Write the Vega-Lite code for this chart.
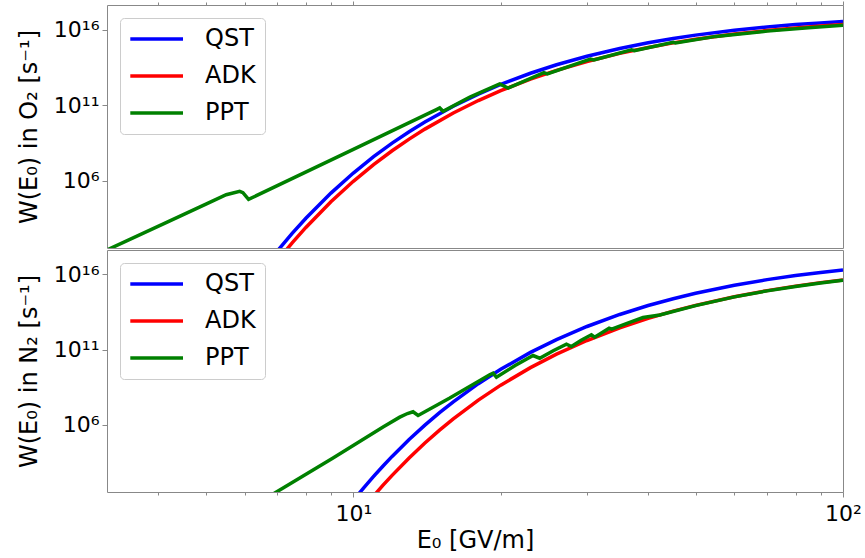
{
  "$schema": "https://vega.github.io/schema/vega-lite/v6.json",
  "background": "white",
  "padding": {"left": 16, "top": 0, "right": 5, "bottom": 5},
  "spacing": 0,
  "config": {
    "font": "DejaVu Sans",
    "view": {"stroke": "#888888", "strokeWidth": 1},
    "axis": {"domain": false, "grid": false, "tickColor": "#888888", "tickWidth": 1, "labelColor": "#000000", "titleColor": "#000000", "labelFont": "DejaVu Sans", "titleFont": "DejaVu Sans", "labelFontSize": 22, "titleFontSize": 24, "titleFontWeight": "normal"},
    "legend": {"orient": "top-left", "offset": 13, "title": null, "symbolType": "M-1.07,0H4.2", "symbolSize": 400, "symbolStrokeWidth": 3.5, "labelFontSize": 24, "labelFont": "DejaVu Sans", "labelColor": "#000000", "labelOffset": 52, "rowPadding": 13, "padding": 9, "strokeColor": "#cccccc", "fillColor": "#ffffff", "cornerRadius": 4, "labelLimit": 300}
  },
  "datasets": {
    "o2": [
      {"E": 6.8, "W": 6.87, "model": "QST"},
      {"E": 7, "W": 22.1, "model": "QST"},
      {"E": 7.5, "W": 312, "model": "QST"},
      {"E": 8, "W": 3.16e3, "model": "QST"},
      {"E": 9, "W": 1.47e5, "model": "QST"},
      {"E": 10, "W": 3.13e6, "model": "QST"},
      {"E": 11, "W": 3.79e7, "model": "QST"},
      {"E": 12, "W": 3.0e8, "model": "QST"},
      {"E": 13, "W": 1.72e9, "model": "QST"},
      {"E": 14, "W": 7.59e9, "model": "QST"},
      {"E": 16, "W": 8.39e10, "model": "QST"},
      {"E": 18, "W": 5.35e11, "model": "QST"},
      {"E": 20, "W": 2.32e12, "model": "QST"},
      {"E": 23, "W": 1.28e13, "model": "QST"},
      {"E": 26, "W": 4.67e13, "model": "QST"},
      {"E": 30, "W": 1.72e14, "model": "QST"},
      {"E": 35, "W": 5.62e14, "model": "QST"},
      {"E": 40, "W": 1.34e15, "model": "QST"},
      {"E": 45, "W": 2.59e15, "model": "QST"},
      {"E": 50, "W": 4.32e15, "model": "QST"},
      {"E": 60, "W": 9.10e15, "model": "QST"},
      {"E": 70, "W": 1.50e16, "model": "QST"},
      {"E": 80, "W": 2.15e16, "model": "QST"},
      {"E": 90, "W": 2.79e16, "model": "QST"},
      {"E": 100, "W": 3.39e16, "model": "QST"},
      {"E": 7, "W": 5.0, "model": "ADK"},
      {"E": 7.5, "W": 74.1, "model": "ADK"},
      {"E": 8, "W": 780, "model": "ADK"},
      {"E": 9, "W": 3.92e4, "model": "ADK"},
      {"E": 10, "W": 8.87e5, "model": "ADK"},
      {"E": 11, "W": 1.13e7, "model": "ADK"},
      {"E": 12, "W": 9.35e7, "model": "ADK"},
      {"E": 13, "W": 5.56e8, "model": "ADK"},
      {"E": 14, "W": 2.55e9, "model": "ADK"},
      {"E": 16, "W": 2.99e10, "model": "ADK"},
      {"E": 18, "W": 2.0e11, "model": "ADK"},
      {"E": 20, "W": 9.06e11, "model": "ADK"},
      {"E": 23, "W": 5.26e12, "model": "ADK"},
      {"E": 26, "W": 2.0e13, "model": "ADK"},
      {"E": 30, "W": 7.73e13, "model": "ADK"},
      {"E": 35, "W": 2.66e14, "model": "ADK"},
      {"E": 40, "W": 6.59e14, "model": "ADK"},
      {"E": 45, "W": 1.32e15, "model": "ADK"},
      {"E": 50, "W": 2.28e15, "model": "ADK"},
      {"E": 60, "W": 5.04e15, "model": "ADK"},
      {"E": 70, "W": 8.65e15, "model": "ADK"},
      {"E": 80, "W": 1.28e16, "model": "ADK"},
      {"E": 90, "W": 1.71e16, "model": "ADK"},
      {"E": 100, "W": 2.14e16, "model": "ADK"},
      {"E": 3.14, "W": 25.1, "model": "PPT"},
      {"E": 4.22, "W": 2.14e3, "model": "PPT"},
      {"E": 5.0, "W": 2.75e4, "model": "PPT"},
      {"E": 5.5, "W": 1.15e5, "model": "PPT"},
      {"E": 5.86, "W": 1.91e5, "model": "PPT"},
      {"E": 5.95, "W": 1.58e5, "model": "PPT"},
      {"E": 6.11, "W": 5.62e4, "model": "PPT"},
      {"E": 10, "W": 1.17e8, "model": "PPT"},
      {"E": 14.0, "W": 2.14e10, "model": "PPT"},
      {"E": 14.78, "W": 5.01e10, "model": "PPT"},
      {"E": 15.01, "W": 6.46e10, "model": "PPT"},
      {"E": 15.25, "W": 3.89e10, "model": "PPT"},
      {"E": 17.3, "W": 3.39e11, "model": "PPT"},
      {"E": 19.9, "W": 2.51e12, "model": "PPT"},
      {"E": 20.7, "W": 1.32e12, "model": "PPT"},
      {"E": 24.5, "W": 1.41e13, "model": "PPT"},
      {"E": 24.9, "W": 1.17e13, "model": "PPT"},
      {"E": 30.5, "W": 1.10e14, "model": "PPT"},
      {"E": 31.0, "W": 9.77e13, "model": "PPT"},
      {"E": 37, "W": 4.57e14, "model": "PPT"},
      {"E": 37.5, "W": 4.07e14, "model": "PPT"},
      {"E": 45, "W": 1.45e15, "model": "PPT"},
      {"E": 45.5, "W": 1.32e15, "model": "PPT"},
      {"E": 55, "W": 3.55e15, "model": "PPT"},
      {"E": 70, "W": 7.94e15, "model": "PPT"},
      {"E": 85, "W": 1.35e16, "model": "PPT"},
      {"E": 100, "W": 1.95e16, "model": "PPT"}
    ],
    "n2": [
      {"E": 10, "W": 9.16, "model": "QST"},
      {"E": 10.5, "W": 63.0, "model": "QST"},
      {"E": 11, "W": 362, "model": "QST"},
      {"E": 11.5, "W": 1.79e3, "model": "QST"},
      {"E": 12, "W": 7.71e3, "model": "QST"},
      {"E": 13, "W": 1.02e5, "model": "QST"},
      {"E": 14, "W": 9.31e5, "model": "QST"},
      {"E": 15, "W": 6.28e6, "model": "QST"},
      {"E": 16, "W": 3.33e7, "model": "QST"},
      {"E": 18, "W": 5.32e8, "model": "QST"},
      {"E": 20, "W": 4.85e9, "model": "QST"},
      {"E": 23, "W": 6.40e10, "model": "QST"},
      {"E": 26, "W": 4.59e11, "model": "QST"},
      {"E": 30, "W": 3.40e12, "model": "QST"},
      {"E": 35, "W": 2.14e13, "model": "QST"},
      {"E": 40, "W": 8.41e13, "model": "QST"},
      {"E": 45, "W": 2.40e14, "model": "QST"},
      {"E": 50, "W": 5.52e14, "model": "QST"},
      {"E": 60, "W": 1.88e15, "model": "QST"},
      {"E": 70, "W": 4.45e15, "model": "QST"},
      {"E": 80, "W": 8.34e15, "model": "QST"},
      {"E": 90, "W": 1.34e16, "model": "QST"},
      {"E": 100, "W": 1.95e16, "model": "QST"},
      {"E": 10.5, "W": 2.98, "model": "ADK"},
      {"E": 11, "W": 18.1, "model": "ADK"},
      {"E": 11.5, "W": 93.8, "model": "ADK"},
      {"E": 12, "W": 424, "model": "ADK"},
      {"E": 13, "W": 6.10e3, "model": "ADK"},
      {"E": 14, "W": 5.97e4, "model": "ADK"},
      {"E": 15, "W": 4.31e5, "model": "ADK"},
      {"E": 16, "W": 2.42e6, "model": "ADK"},
      {"E": 18, "W": 4.29e7, "model": "ADK"},
      {"E": 20, "W": 4.25e8, "model": "ADK"},
      {"E": 23, "W": 6.22e9, "model": "ADK"},
      {"E": 26, "W": 4.89e10, "model": "ADK"},
      {"E": 30, "W": 3.97e11, "model": "ADK"},
      {"E": 35, "W": 2.75e12, "model": "ADK"},
      {"E": 40, "W": 1.17e13, "model": "ADK"},
      {"E": 45, "W": 3.56e13, "model": "ADK"},
      {"E": 50, "W": 8.67e13, "model": "ADK"},
      {"E": 60, "W": 3.25e14, "model": "ADK"},
      {"E": 70, "W": 8.26e14, "model": "ADK"},
      {"E": 80, "W": 1.65e15, "model": "ADK"},
      {"E": 90, "W": 2.81e15, "model": "ADK"},
      {"E": 100, "W": 4.27e15, "model": "ADK"},
      {"E": 6.8, "W": 20.7, "model": "PPT"},
      {"E": 9.09, "W": 6.03e3, "model": "PPT"},
      {"E": 11.5, "W": 7.08e5, "model": "PPT"},
      {"E": 12.44, "W": 3.16e6, "model": "PPT"},
      {"E": 12.9, "W": 5.50e6, "model": "PPT"},
      {"E": 13.24, "W": 7.24e6, "model": "PPT"},
      {"E": 13.56, "W": 4.07e6, "model": "PPT"},
      {"E": 15.74, "W": 5.89e7, "model": "PPT"},
      {"E": 18.99, "W": 2.09e9, "model": "PPT"},
      {"E": 19.29, "W": 2.69e9, "model": "PPT"},
      {"E": 19.6, "W": 1.45e9, "model": "PPT"},
      {"E": 21.4, "W": 8.51e9, "model": "PPT"},
      {"E": 23.28, "W": 3.98e10, "model": "PPT"},
      {"E": 24.02, "W": 2.63e10, "model": "PPT"},
      {"E": 25.6, "W": 8.32e10, "model": "PPT"},
      {"E": 27.24, "W": 2.24e11, "model": "PPT"},
      {"E": 27.88, "W": 1.58e11, "model": "PPT"},
      {"E": 29.2, "W": 4.17e11, "model": "PPT"},
      {"E": 30.63, "W": 9.55e11, "model": "PPT"},
      {"E": 31.1, "W": 6.61e11, "model": "PPT"},
      {"E": 33.3, "W": 2.63e12, "model": "PPT"},
      {"E": 33.7, "W": 2.29e12, "model": "PPT"},
      {"E": 36.68, "W": 6.46e12, "model": "PPT"},
      {"E": 39.05, "W": 1.35e13, "model": "PPT"},
      {"E": 42.24, "W": 2.0e13, "model": "PPT"},
      {"E": 50, "W": 8.32e13, "model": "PPT"},
      {"E": 60, "W": 3.16e14, "model": "PPT"},
      {"E": 70, "W": 7.94e14, "model": "PPT"},
      {"E": 80, "W": 1.58e15, "model": "PPT"},
      {"E": 90, "W": 2.69e15, "model": "PPT"},
      {"E": 100, "W": 4.07e15, "model": "PPT"}
    ]
  },
  "vconcat": [
    {
      "width": 736,
      "height": 243,
      "data": {"name": "o2"},
      "mark": {"type": "line", "strokeWidth": 3.5, "clip": true},
      "encoding": {
        "x": {"field": "E", "type": "quantitative", "scale": {"type": "log", "domain": [3.14, 100], "nice": false},
          "axis": {"orient": "top", "values": [4, 5, 6, 7, 8, 9, 10, 20, 30, 40, 50, 60, 70, 80, 90, 100], "labels": false, "title": null,
            "tickSize": {"condition": {"test": "datum.value === 10 || datum.value === 100", "value": 4}, "value": 3}}},
        "y": {"field": "W", "type": "quantitative", "scale": {"type": "log", "domain": [33.9, 4.27e17], "nice": false},
          "axis": {"values": [1e6, 1e11, 1e16], "labelExpr": "datum.value >= 1e15 ? '10¹⁶' : datum.value >= 1e10 ? '10¹¹' : '10⁶'", "tickSize": 5, "labelPadding": 3, "titlePadding": 12, "title": "W(E₀) in O₂ [s⁻¹]"}},
        "color": {"field": "model", "type": "nominal", "scale": {"domain": ["QST", "ADK", "PPT"], "range": ["#0000ff", "#ff0000", "#008000"]},
          "legend": {"rowPadding": 13, "symbolType": "M-1.07,0H4.2", "symbolSize": 400, "labelOffset": 52}}
      }
    },
    {
      "width": 736,
      "height": 242,
      "data": {"name": "n2"},
      "mark": {"type": "line", "strokeWidth": 3.5, "clip": true},
      "encoding": {
        "x": {"field": "E", "type": "quantitative", "scale": {"type": "log", "domain": [3.14, 100], "nice": false},
          "axis": {"orient": "bottom", "values": [4, 5, 6, 7, 8, 9, 10, 20, 30, 40, 50, 60, 70, 80, 90, 100],
            "labelExpr": "datum.value === 10 ? '10¹' : datum.value === 100 ? '10²' : ''", "labelFlush": false, "labelOverlap": false,
            "tickSize": {"condition": {"test": "datum.value === 10 || datum.value === 100", "value": 5}, "value": 3},
            "labelPadding": 6, "titlePadding": 4, "title": "E₀ [GV/m]"}},
        "y": {"field": "W", "type": "quantitative", "scale": {"type": "log", "domain": [33.1, 4.17e17], "nice": false},
          "axis": {"values": [1e6, 1e11, 1e16], "labelExpr": "datum.value >= 1e15 ? '10¹⁶' : datum.value >= 1e10 ? '10¹¹' : '10⁶'", "tickSize": 5, "labelPadding": 3, "titlePadding": 12, "title": "W(E₀) in N₂ [s⁻¹]"}},
        "color": {"field": "model", "type": "nominal", "scale": {"domain": ["QST", "ADK", "PPT"], "range": ["#0000ff", "#ff0000", "#008000"]},
          "legend": {"rowPadding": 13, "symbolType": "M-1.07,0H4.2", "symbolSize": 400, "labelOffset": 52}}
      }
    }
  ],
  "resolve": {"scale": {"y": "independent", "color": "independent"}, "legend": {"color": "independent"}}
}
